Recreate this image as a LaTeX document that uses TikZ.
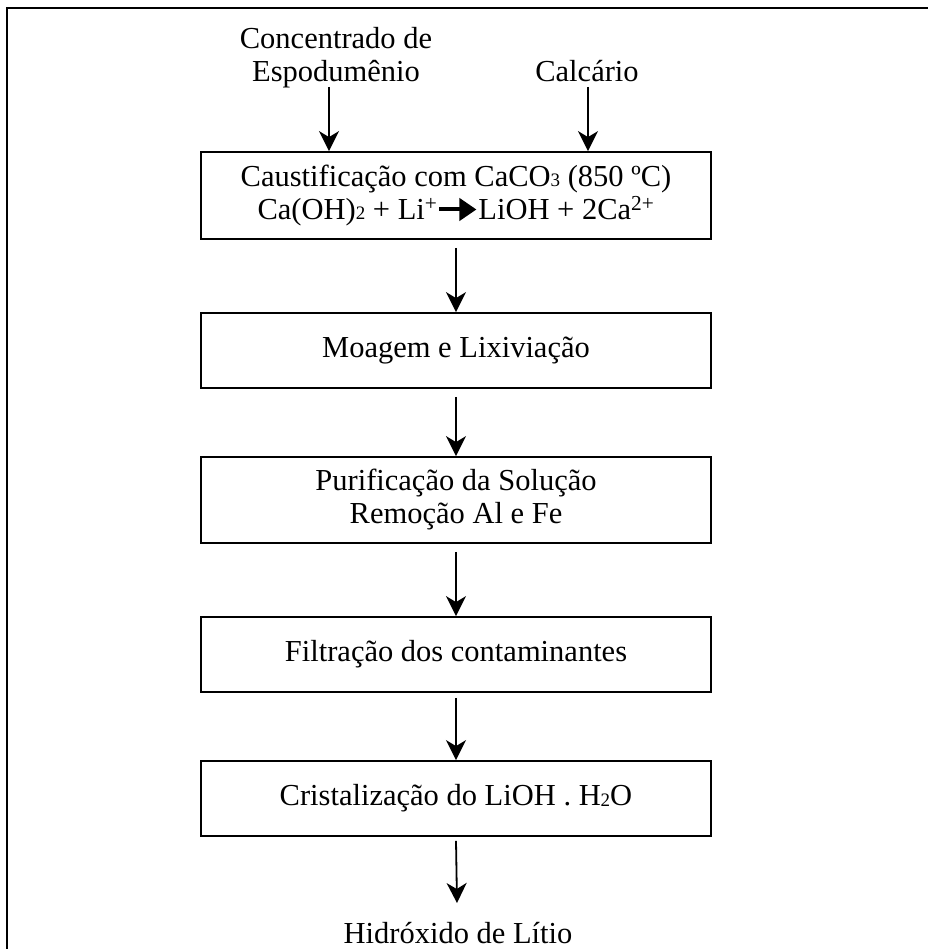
\documentclass[tikz,border=0pt]{standalone}
\usepackage{fontspec}
\setmainfont{Liberation Serif}
\usetikzlibrary{arrows.meta}
\newcommand{\sbs}[1]{\raisebox{-0.5pt}{\fontsize{19}{19}\selectfont #1}}
\newcommand{\rxarrow}{\tikz[baseline=-10pt]{\draw[line width=4pt,-{Triangle[length=17pt,width=22pt]}] (0pt,0pt) -- (37pt,0pt);}}
\begin{document}
\begin{tikzpicture}[x=1pt,y=-1pt,
  every node/.style={font=\fontsize{30.5}{33}\selectfont},
  procbox/.style={draw, line width=1.8pt, minimum width=510pt, inner sep=0pt, align=center},
  flow/.style={line width=1.8pt, -{Stealth[length=20pt,width=20pt,inset=6pt]}},
  label/.style={align=center, inner sep=0pt}]
\useasboundingbox (0,0) rectangle (927,949);
% outer frame (only left and top edges visible)
\draw[line width=2.2pt] (7,960) -- (7,8) -- (940,8);
% boxes
\node[procbox, minimum height=87pt] (b1) at (456,195.5) {Caustificação com CaCO\sbs{3} (850 ºC)\\Ca(OH)\sbs{2} + Li\textsuperscript{+}\rxarrow LiOH + 2Ca\textsuperscript{2+}};
\node[procbox, minimum height=75pt] (b2) at (456,350.5) {Moagem e Lixiviação};
\node[procbox, minimum height=86pt] (b3) at (456,500) {Purificação da Solução\\Remoção Al e Fe};
\node[procbox, minimum height=75pt] (b4) at (456,654.5) {Filtração dos contaminantes};
\node[procbox, minimum height=75pt] (b5) at (456,798.5) {Cristalização do LiOH . H\sbs{2}O};
% input labels
\node[label, anchor=base] (in1) at (336,82) {Concentrado de\\Espodumênio};
\node[label, anchor=base] (in2) at (587,82) {Calcário};
\node[label, anchor=base] (out) at (458,943) {Hidróxido de Lítio};
% connectors
\coordinate (a1) at (329,87);
\coordinate (a2) at (588,87);
\draw[flow] (a1) -- (a1 |- b1.north);
\draw[flow] (a2) -- (a2 |- b1.north);
\draw[flow] ([yshift=-8pt]b1.south) -- (b2.north);
\draw[flow] ([yshift=-8pt]b2.south) -- (b3.north);
\draw[flow] ([yshift=-8pt]b3.south) -- (b4.north);
\draw[flow] ([yshift=-5pt]b4.south) -- (b5.north);
\coordinate (o1) at (457,903);
\draw[flow] ([yshift=-4pt]b5.south) -- (o1);
\end{tikzpicture}
\end{document}
